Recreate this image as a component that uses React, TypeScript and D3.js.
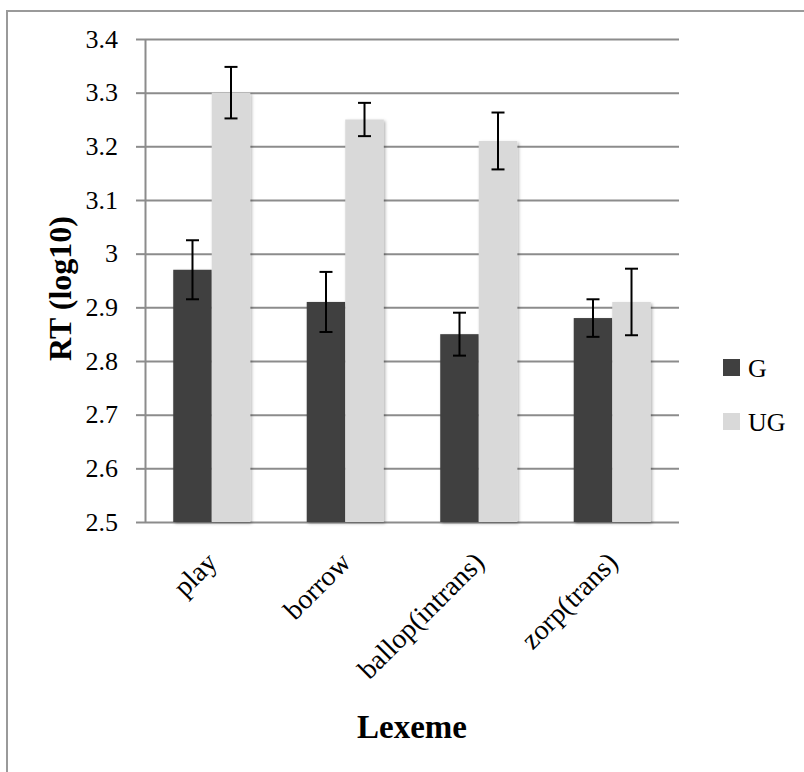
import React, { useRef, useEffect } from "react";
import * as d3 from "d3";

const lexemes = ["play", "borrow", "ballop(intrans)", "zorp(trans)"];
const seriesNames = ["G", "UG"];
const gMeans = [2.97, 2.91, 2.85, 2.88];
const ugMeans = [3.3, 3.25, 3.21, 2.91];
const gErrors = [0.055, 0.056, 0.04, 0.035];
const ugErrors = [0.048, 0.031, 0.053, 0.062];
const yTickValues = [2.5, 2.6, 2.7, 2.8, 2.9, 3.0, 3.1, 3.2, 3.3, 3.4];
const seriesColors = ["#404040", "#d9d9d9"];

export default () => {
    const d3Container = useRef(null);

    useEffect(() => {
        if (d3Container.current) {
            drawChart();
        }
    }, []);

    const drawChart = () => {
        const width = 804;
        const height = 772;
        const margin = { top: 39, left: 145, right: 125, bottom: 250 };
        const font = "'Liberation Serif', 'Times New Roman', serif";

        // one row per lexeme, one entry per series
        const rows = lexemes.map((lex, i) => ({
            lex,
            bars: [
                { name: seriesNames[0], value: gMeans[i], err: gErrors[i], color: seriesColors[0] },
                { name: seriesNames[1], value: ugMeans[i], err: ugErrors[i], color: seriesColors[1] },
            ],
        }));

        const x = d3.scaleBand()
            .domain(lexemes)
            .range([margin.left, width - margin.right])
            .paddingInner(0.423)
            .paddingOuter(0.2115);

        const xInner = d3.scaleBand()
            .domain(seriesNames)
            .range([0, x.bandwidth()]);

        const y = d3.scaleLinear()
            .domain([2.5, 3.4])
            .range([height - margin.bottom, margin.top]);

        const root = d3.select(d3Container.current);
        root.selectAll("*").remove();

        const svg = root.append("svg")
            .attr("width", width)
            .attr("height", height)
            .attr("viewBox", [0, 0, width, height])
            .style("position", "absolute")
            .style("left", 0)
            .style("top", 0)
            .style("background", "#fff");

        const defs = svg.append("defs");
        defs.append("filter")
            .attr("id", "barShadow")
            .attr("x", "-20%").attr("y", "-5%")
            .attr("width", "140%").attr("height", "115%")
            .append("feDropShadow")
            .attr("dx", 1.5).attr("dy", 1.5)
            .attr("stdDeviation", 1.5)
            .attr("flood-color", "#000")
            .attr("flood-opacity", 0.3);

        // chart frame (cropped on right and bottom)
        svg.append("path")
            .attr("d", `M7,${height} V11 H${width}`)
            .attr("fill", "none")
            .attr("stroke", "#9a9a9a")
            .attr("stroke-width", 2);

        // gridlines
        svg.append("g")
            .attr("transform", `translate(${margin.left},0)`)
            .call(d3.axisLeft(y).tickValues(yTickValues).tickSize(-(width - margin.right - margin.left)).tickFormat(() => ""))
            .call(g => g.select(".domain").remove())
            .call(g => g.selectAll(".tick line").attr("stroke", "#8c8c8c").attr("stroke-width", 2));

        // y axis with outward ticks
        svg.append("g")
            .attr("transform", `translate(${margin.left},0)`)
            .call(d3.axisLeft(y).tickValues(yTickValues).tickSize(9).tickSizeOuter(0).tickPadding(18)
                .tickFormat(d => d3.format(".2~f")(d)))
            .call(g => g.select(".domain").attr("stroke", "#8c8c8c").attr("stroke-width", 2))
            .call(g => g.selectAll(".tick line").attr("stroke", "#8c8c8c").attr("stroke-width", 2))
            .call(g => g.selectAll(".tick text")
                .attr("font-family", font)
                .attr("font-size", 26)
                .attr("fill", "#000"));

        // bars
        const groups = svg.append("g")
            .selectAll("g")
            .data(rows)
            .join("g")
            .attr("transform", d => `translate(${x(d.lex)},0)`);

        groups.selectAll("rect")
            .data(d => d.bars)
            .join("rect")
            .attr("x", d => xInner(d.name))
            .attr("y", d => y(d.value))
            .attr("width", xInner.bandwidth())
            .attr("height", d => y(2.5) - y(d.value))
            .attr("fill", d => d.color)
            .attr("filter", "url(#barShadow)");

        // error bars
        const capW = 6.5;
        const eb = groups.selectAll("g.err")
            .data(d => d.bars)
            .join("g")
            .attr("class", "err")
            .attr("stroke", "#000")
            .attr("stroke-width", 2);
        eb.append("line")
            .attr("x1", d => xInner(d.name) + xInner.bandwidth() / 2)
            .attr("x2", d => xInner(d.name) + xInner.bandwidth() / 2)
            .attr("y1", d => y(d.value + d.err))
            .attr("y2", d => y(d.value - d.err));
        eb.append("line")
            .attr("x1", d => xInner(d.name) + xInner.bandwidth() / 2 - capW)
            .attr("x2", d => xInner(d.name) + xInner.bandwidth() / 2 + capW)
            .attr("y1", d => y(d.value + d.err))
            .attr("y2", d => y(d.value + d.err));
        eb.append("line")
            .attr("x1", d => xInner(d.name) + xInner.bandwidth() / 2 - capW)
            .attr("x2", d => xInner(d.name) + xInner.bandwidth() / 2 + capW)
            .attr("y1", d => y(d.value - d.err))
            .attr("y2", d => y(d.value - d.err));

        // category labels, rotated
        svg.append("g")
            .selectAll("text")
            .data(lexemes)
            .join("text")
            .attr("transform", d => `translate(${x(d) + x.bandwidth() / 2 + 7},${y(2.5) + 42}) rotate(-45)`)
            .attr("text-anchor", "end")
            .attr("font-family", font)
            .attr("font-size", 28)
            .attr("fill", "#000")
            .text(d => d);

        // axis titles
        svg.append("text")
            .attr("transform", `translate(71,${(y(2.5) + y(3.4)) / 2 + 8}) rotate(-90)`)
            .attr("text-anchor", "middle")
            .attr("font-family", font)
            .attr("font-weight", "bold")
            .attr("font-size", 32)
            .text("RT (log10)");

        svg.append("text")
            .attr("x", (margin.left + width - margin.right) / 2)
            .attr("y", 738)
            .attr("text-anchor", "middle")
            .attr("font-family", font)
            .attr("font-weight", "bold")
            .attr("font-size", 33)
            .text("Lexeme");

        // legend
        const legend = svg.append("g")
            .selectAll("g")
            .data(seriesNames)
            .join("g")
            .attr("transform", (d, i) => `translate(723,${359 + i * 54})`);
        legend.append("rect")
            .attr("width", 17)
            .attr("height", 17)
            .attr("fill", (d, i) => seriesColors[i]);
        legend.append("text")
            .attr("x", 25)
            .attr("y", 18)
            .attr("font-family", font)
            .attr("font-size", 26)
            .text(d => d);

        return svg.node();
    };

    return (
        <div
            className="d3-container"
            ref={d3Container}
        ></div>
    );
};
